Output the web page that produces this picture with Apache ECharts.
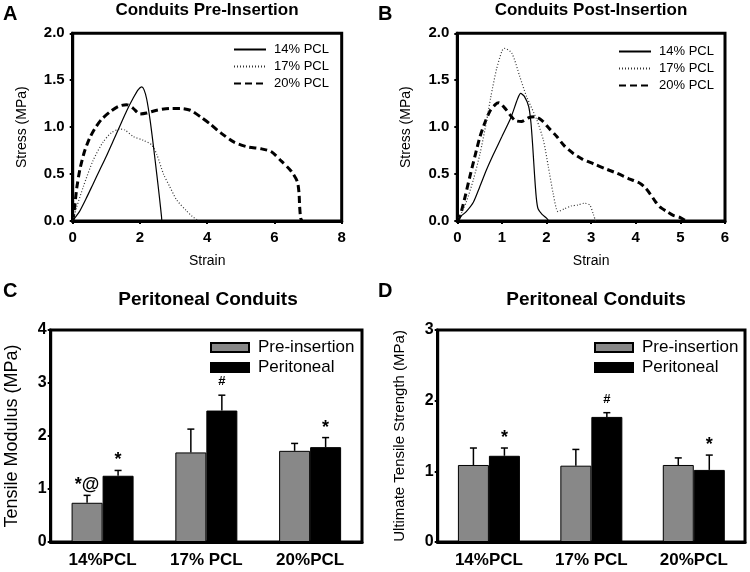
<!DOCTYPE html>
<html><head><meta charset="utf-8">
<script src="https://cdn.jsdelivr.net/npm/echarts@6/dist/echarts.min.js"></script>
<style>html,body{margin:0;padding:0;background:#fff}#c{width:750px;height:572px}</style>
</head><body><div id="c"></div>
<script>
// ---- Panel A: stress-strain pre-insertion [strain, stress MPa]
const a14 = [[0,0],[0.08,0.04],[0.2,0.1],[0.4,0.24],[0.6,0.39],[0.8,0.54],[1.0,0.69],[1.2,0.85],[1.4,1.01],[1.6,1.17],[1.8,1.31],[1.95,1.40],[2.05,1.43],[2.12,1.40],[2.2,1.3],[2.3,1.08],[2.4,0.8],[2.5,0.5],[2.58,0.25],[2.64,0.05],[2.65,0]];
const a17 = [[0,0],[0.12,0.15],[0.32,0.37],[0.6,0.64],[0.9,0.84],[1.15,0.94],[1.4,0.98],[1.55,0.97],[1.8,0.9],[2.1,0.86],[2.35,0.81],[2.5,0.71],[2.7,0.5],[2.88,0.37],[3.1,0.22],[3.38,0.11],[3.55,0.05],[3.75,0]];
const a20 = [[0,0],[0.05,0.12],[0.12,0.35],[0.22,0.56],[0.35,0.74],[0.5,0.88],[0.65,0.98],[0.85,1.08],[1.1,1.16],[1.35,1.22],[1.6,1.24],[1.8,1.2],[2.0,1.14],[2.2,1.15],[2.5,1.18],[2.9,1.2],[3.2,1.2],[3.5,1.18],[3.8,1.11],[4.1,1.03],[4.4,0.94],[4.8,0.84],[5.2,0.79],[5.6,0.77],[5.9,0.74],[6.2,0.64],[6.5,0.53],[6.68,0.42],[6.73,0.3],[6.75,0.15],[6.78,0.03],[6.82,0]];
// ---- Panel B: stress-strain post-insertion
const b14 = [[0,0],[0.08,0.05],[0.2,0.1],[0.36,0.2],[0.5,0.36],[0.65,0.54],[0.8,0.7],[1.0,0.9],[1.2,1.1],[1.35,1.3],[1.42,1.36],[1.5,1.33],[1.6,1.22],[1.65,1.05],[1.69,0.8],[1.73,0.5],[1.77,0.25],[1.81,0.13],[1.9,0.07],[2.0,0.03],[2.05,0]];
const b17 = [[0,0],[0.06,0.05],[0.2,0.2],[0.36,0.44],[0.51,0.72],[0.65,1.05],[0.75,1.32],[0.88,1.62],[1.0,1.81],[1.05,1.84],[1.22,1.79],[1.4,1.54],[1.55,1.33],[1.78,1.08],[1.93,0.86],[2.04,0.58],[2.15,0.29],[2.26,0.1],[2.4,0.13],[2.55,0.16],[2.7,0.17],[2.85,0.19],[2.97,0.17],[3.05,0.07],[3.1,0]];
const b20 = [[0,0],[0.06,0.05],[0.17,0.25],[0.28,0.47],[0.4,0.7],[0.51,0.9],[0.62,1.05],[0.73,1.17],[0.85,1.24],[0.93,1.26],[1.07,1.2],[1.2,1.12],[1.3,1.07],[1.44,1.06],[1.6,1.1],[1.75,1.11],[1.9,1.07],[2.05,0.99],[2.23,0.9],[2.4,0.8],[2.6,0.72],[2.8,0.66],[3.05,0.61],[3.3,0.56],[3.57,0.51],[3.85,0.45],[4.1,0.4],[4.22,0.35],[4.32,0.29],[4.45,0.2],[4.54,0.15],[4.7,0.1],[4.84,0.06],[4.98,0.04],[5.1,0.01],[5.15,0]];
const lineNames = ['14% PCL','17% PCL','20% PCL'];
// ---- Panels C & D: bars
const categories = ['14%PCL','17% PCL','20%PCL'];
const barNames = ['Pre-insertion','Peritoneal'];
const modPre = [0.74, 1.69, 1.72];
const modPreSd = [0.14, 0.44, 0.14];
const modPer = [1.25, 2.48, 1.79];
const modPerSd = [0.10, 0.29, 0.18];
const modPreMarks = ['*@','',''];
const modPerMarks = ['*','#','*'];
const utsPre = [1.09, 1.08, 1.09];
const utsPreSd = [0.24, 0.23, 0.10];
const utsPer = [1.22, 1.77, 1.02];
const utsPerSd = [0.11, 0.06, 0.21];
const utsPreMarks = ['','',''];
const utsPerMarks = ['*','#','*'];
const ticksA = {min:0,max:8,interval:2};
const ticksB = {min:0,max:6,interval:1};
const ticksStress = {min:0,max:2,interval:0.5};
const ticksMod = {min:0,max:4,interval:1};
const ticksUts = {min:0,max:3,interval:1};

const FF = 'Liberation Sans, Arial, sans-serif';
const BW = 31;
const chart = echarts.init(document.getElementById('c'));

function valAxis(grid, t, name, nameGap, nameSize, labelSize, fmt, margin){
  return {type:'value', gridIndex:grid, min:t.min, max:t.max, interval:t.interval,
    axisLine:{show:true, onZero:false, lineStyle:{color:'#000', width:3}},
    axisTick:{show:true, length:3, lineStyle:{color:'#000', width:2}},
    splitLine:{show:false},
    axisLabel:{color:'#000', fontFamily:FF, fontWeight:'bold', fontSize:labelSize, margin:margin, formatter:fmt},
    name:name, nameLocation:'middle', nameGap:nameGap,
    nameTextStyle:{color:'#000', fontFamily:FF, fontSize:nameSize}};
}
function catAxis(grid){
  return {type:'category', gridIndex:grid, data:categories,
    axisLine:{lineStyle:{color:'#000', width:3}}, axisTick:{show:false},
    axisLabel:{color:'#000', fontFamily:FF, fontWeight:'bold', fontSize:17, margin:10}};
}
const lineStyles = [
  {color:'#000', width:1.2, type:'solid'},
  {color:'#333', width:1.2, type:[1,2]},
  {color:'#000', width:3, type:[7,4]}
];
function lineSeries(data, idx, grid){
  return {type:'line', name:lineNames[idx], xAxisIndex:grid, yAxisIndex:grid, data:data,
    symbol:'none', smooth:0.25, lineStyle:lineStyles[idx], itemStyle:{color:'#000'}, z: 3-idx, animation:false};
}
function errSeries(grid, means, sds, marks, side, markSize){
  return {type:'custom', xAxisIndex:grid, yAxisIndex:grid, z:10, animation:false,
    data: means.map((m,i)=>[i, m, sds[i]]),
    renderItem:function(params, api){
      const ci = api.value(0), m = api.value(1), sd = api.value(2);
      const p0 = api.coord([ci, m]);
      const p1 = api.coord([ci, m+sd]);
      const x = p0[0] + side*BW/2;
      const mk = marks[params.dataIndex];
      const ch = [
        {type:'line', shape:{x1:x, y1:p0[1], x2:x, y2:p1[1]}, style:{stroke:'#000', lineWidth:1.5}},
        {type:'line', shape:{x1:x-3.5, y1:p1[1], x2:x+3.5, y2:p1[1]}, style:{stroke:'#000', lineWidth:1.5}}
      ];
      if(mk){
        const isHash = mk === '#';
        ch.push({type:'text', x:x, y:p1[1] - (isHash ? 7 : 1),
          style:{text:mk, textAlign:'center', textVerticalAlign:'bottom', fill:'#000', fontFamily:FF,
            fontWeight:'bold', fontSize: isHash ? 13 : markSize}});
      }
      return {type:'group', children:ch};
    }};
}
function barSeries(grid, data, idx){
  return {type:'bar', name:barNames[idx], xAxisIndex:grid, yAxisIndex:grid, data:data,
    barWidth:BW, barGap:'0%', animation:false,
    itemStyle: idx===0 ? {color:'#888888', borderColor:'#000', borderWidth:1} : {color:'#000', borderColor:'#000', borderWidth:1}};
}
const titleStyle = (size)=>({color:'#000', fontFamily:FF, fontWeight:'bold', fontSize:size});
const lineLegend = (left, top) => ({data:lineNames, orient:'vertical', left:left, top:top, itemWidth:32, itemHeight:12, itemGap:4,
      padding:0, itemStyle:{opacity:0}, textStyle:{color:'#000', fontFamily:FF, fontSize:13, padding:[0,0,0,3]}, selectedMode:false});
const barLegend = (left, top) => ({data:barNames, orient:'vertical', left:left, top:top, icon:'rect', itemWidth:38, itemHeight:9, itemGap:3,
      padding:0, textStyle:{color:'#000', fontFamily:FF, fontSize:17, padding:[0,0,0,4]}, selectedMode:false});

chart.setOption({
  backgroundColor:'#fff',
  animation:false,
  title:[
    {text:'A', left:3, top:4, padding:0, textStyle:titleStyle(20)},
    {text:'B', left:378, top:4, padding:0, textStyle:titleStyle(20)},
    {text:'C', left:3, top:281, padding:0, textStyle:titleStyle(20)},
    {text:'D', left:378, top:281, padding:0, textStyle:titleStyle(20)},
    {text:'Conduits Pre-Insertion', left:207, textAlign:'center', top:2, padding:0, textStyle:titleStyle(17)},
    {text:'Conduits Post-Insertion', left:591, textAlign:'center', top:2, padding:0, textStyle:titleStyle(17)},
    {text:'Peritoneal Conduits', left:208, textAlign:'center', top:290, padding:0, textStyle:titleStyle(19)},
    {text:'Peritoneal Conduits', left:596, textAlign:'center', top:290, padding:0, textStyle:titleStyle(19)}
  ],
  grid:[
    {left:72.7, right:408.3, top:33.3, bottom:351, show:true, borderColor:'#000', borderWidth:3, backgroundColor:'transparent'},
    {left:457.3, right:25, top:33.3, bottom:351, show:true, borderColor:'#000', borderWidth:3, backgroundColor:'transparent'},
    {left:50.7, right:388, top:330, bottom:30, show:true, borderColor:'#000', borderWidth:3, backgroundColor:'transparent'},
    {left:437.7, right:5, top:330, bottom:30, show:true, borderColor:'#000', borderWidth:3, backgroundColor:'transparent'}
  ],
  legend:[ lineLegend(233, 43), lineLegend(618, 45), barLegend(210, 339), barLegend(594, 339) ],
  xAxis:[
    valAxis(0, ticksA, 'Strain', 33, 14, 15, v=>v, 9),
    valAxis(1, ticksB, 'Strain', 33, 14, 15, v=>v, 9),
    catAxis(2),
    catAxis(3)
  ],
  yAxis:[
    valAxis(0, ticksStress, 'Stress (MPa)', 44, 14, 15, v=>v.toFixed(1), 8),
    valAxis(1, ticksStress, 'Stress (MPa)', 44, 14, 15, v=>v.toFixed(1), 8),
    valAxis(2, ticksMod, 'Tensile Modulus (MPa)', 30, 18, 16, v=>v, 4),
    valAxis(3, ticksUts, 'Ultimate Tensile Strength (MPa)', 30, 15, 16, v=>v, 4)
  ],
  series:[
    lineSeries(a14,0,0), lineSeries(a17,1,0), lineSeries(a20,2,0),
    lineSeries(b14,0,1), lineSeries(b17,1,1), lineSeries(b20,2,1),
    barSeries(2, modPre, 0), barSeries(2, modPer, 1),
    errSeries(2, modPre, modPreSd, modPreMarks, -1, 18),
    errSeries(2, modPer, modPerSd, modPerMarks, 1, 18),
    barSeries(3, utsPre, 0), barSeries(3, utsPer, 1),
    errSeries(3, utsPre, utsPreSd, utsPreMarks, -1, 18),
    errSeries(3, utsPer, utsPerSd, utsPerMarks, 1, 18)
  ]
});
</script></body></html>
